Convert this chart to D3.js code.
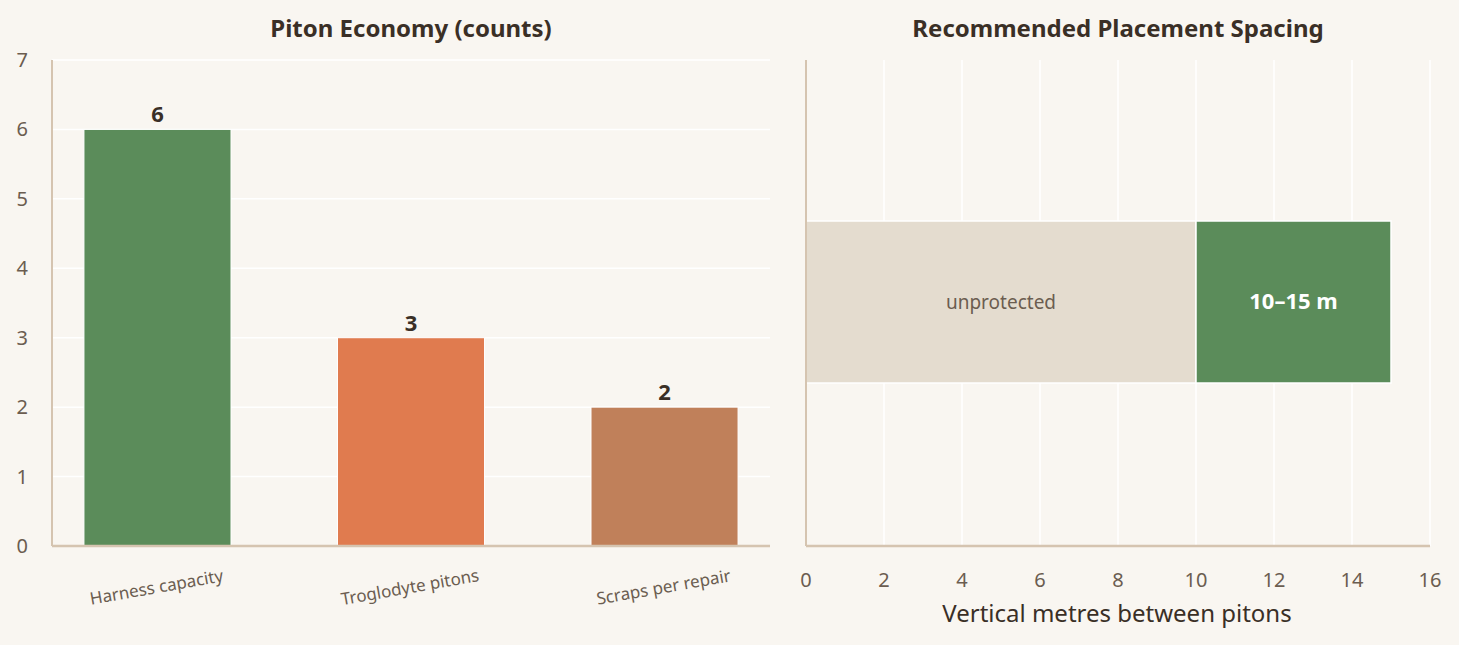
<!DOCTYPE html>
<html><head><meta charset="utf-8">
<script src="https://cdn.jsdelivr.net/npm/d3@7"></script>
<style>body{margin:0;background:#f9f6f1;}text{font-family:"Source Sans Pro","Noto Sans",sans-serif;}</style>
</head><body><svg id="c" width="1459" height="645"></svg>
<script>
// Data
var categories = ["Harness capacity", "Troglodyte pitons", "Scraps per repair"];
var counts = [6, 3, 2];
var barColors = ["#5b8c5a", "#e07b4f", "#c0805a"];
var yTicks = [0, 1, 2, 3, 4, 5, 6, 7];
var spacingSegments = [
  {label: "unprotected", start: 0, end: 10},
  {label: "10–15 m", start: 10, end: 15}
];
var xTicks = [0, 2, 4, 6, 8, 10, 12, 14, 16];

var svg = d3.select("#c");
var axisColor = "#d5c4b0", tickColor = "#6b5d50", titleColor = "#3a2f26";

// Left chart
var y = d3.scaleLinear().domain([0, 7]).range([546, 60]);
var x = d3.scaleBand().domain(categories).range([52, 770]).paddingInner(0.42).paddingOuter(0.126);
var left = svg.append("g");
left.selectAll("line.grid").data(yTicks.slice(1)).enter().append("line")
    .attr("x1", 52).attr("x2", 770).attr("y1", d => y(d)).attr("y2", d => y(d))
    .attr("stroke", "#fff").attr("stroke-width", 1.5);
left.selectAll("rect").data(counts).enter().append("rect")
    .attr("x", (d, i) => x(categories[i])).attr("width", x.bandwidth())
    .attr("y", d => y(d)).attr("height", d => y(0) - y(d))
    .attr("fill", (d, i) => barColors[i]).attr("stroke", "#fff").attr("stroke-width", 1);
left.selectAll("text.val").data(counts).enter().append("text")
    .attr("x", (d, i) => x(categories[i]) + x.bandwidth() / 2).attr("y", d => y(d) - 7)
    .attr("text-anchor", "middle").attr("font-size", 22).attr("font-weight", "bold")
    .attr("fill", titleColor).text(d => d);
left.selectAll("text.ytick").data(yTicks).enter().append("text")
    .attr("x", 28).attr("y", d => y(d) + 7).attr("text-anchor", "end")
    .attr("font-size", 20).attr("fill", tickColor).text(d => d);
left.selectAll("text.xlab").data(categories).enter().append("text")
    .attr("transform", d => "translate(" + (x(d) + x.bandwidth() / 2) + ",593) rotate(-10)")
    .attr("text-anchor", "middle").attr("font-size", 17).attr("fill", tickColor).text(d => d);
left.append("line").attr("x1", 52).attr("x2", 52).attr("y1", 60).attr("y2", 546).attr("stroke", axisColor).attr("stroke-width", 2);
left.append("line").attr("x1", 52).attr("x2", 770).attr("y1", 546).attr("y2", 546).attr("stroke", axisColor).attr("stroke-width", 2.5);
left.append("text").attr("x", 411).attr("y", 37).attr("text-anchor", "middle")
    .attr("font-size", 24).attr("font-weight", "bold").attr("fill", titleColor).text("Piton Economy (counts)");

// Right chart
var x2 = d3.scaleLinear().domain([0, 16]).range([806, 1430]);
var right = svg.append("g");
right.selectAll("line.grid").data(xTicks.slice(1)).enter().append("line")
    .attr("x1", d => x2(d)).attr("x2", d => x2(d)).attr("y1", 60).attr("y2", 546)
    .attr("stroke", "#fff").attr("stroke-width", 1.5);
right.selectAll("rect").data(spacingSegments).enter().append("rect")
    .attr("x", d => x2(d.start)).attr("width", d => x2(d.end) - x2(d.start))
    .attr("y", 221).attr("height", 162)
    .attr("fill", (d, i) => i ? "#5b8c5a" : "#e4dccf").attr("stroke", "#fff").attr("stroke-width", 1.5);
right.selectAll("text.seg").data(spacingSegments).enter().append("text")
    .attr("x", d => (x2(d.start) + x2(d.end)) / 2).attr("y", 309).attr("text-anchor", "middle")
    .attr("font-size", (d, i) => i ? 22 : 19).attr("font-weight", (d, i) => i ? "bold" : "normal")
    .attr("fill", (d, i) => i ? "#fff" : "#6b5d50").text(d => d.label);
right.selectAll("text.xtick").data(xTicks).enter().append("text")
    .attr("x", d => x2(d)).attr("y", 587).attr("text-anchor", "middle")
    .attr("font-size", 20).attr("fill", tickColor).text(d => d);
right.append("line").attr("x1", 806).attr("x2", 806).attr("y1", 60).attr("y2", 546).attr("stroke", axisColor).attr("stroke-width", 2);
right.append("line").attr("x1", 806).attr("x2", 1430).attr("y1", 546).attr("y2", 546).attr("stroke", axisColor).attr("stroke-width", 2.5);
right.append("text").attr("x", 1117).attr("y", 622).attr("text-anchor", "middle")
    .attr("font-size", 24).attr("fill", titleColor).text("Vertical metres between pitons");
right.append("text").attr("x", 1118).attr("y", 37).attr("text-anchor", "middle")
    .attr("font-size", 24).attr("font-weight", "bold").attr("fill", titleColor).text("Recommended Placement Spacing");
</script></body></html>
